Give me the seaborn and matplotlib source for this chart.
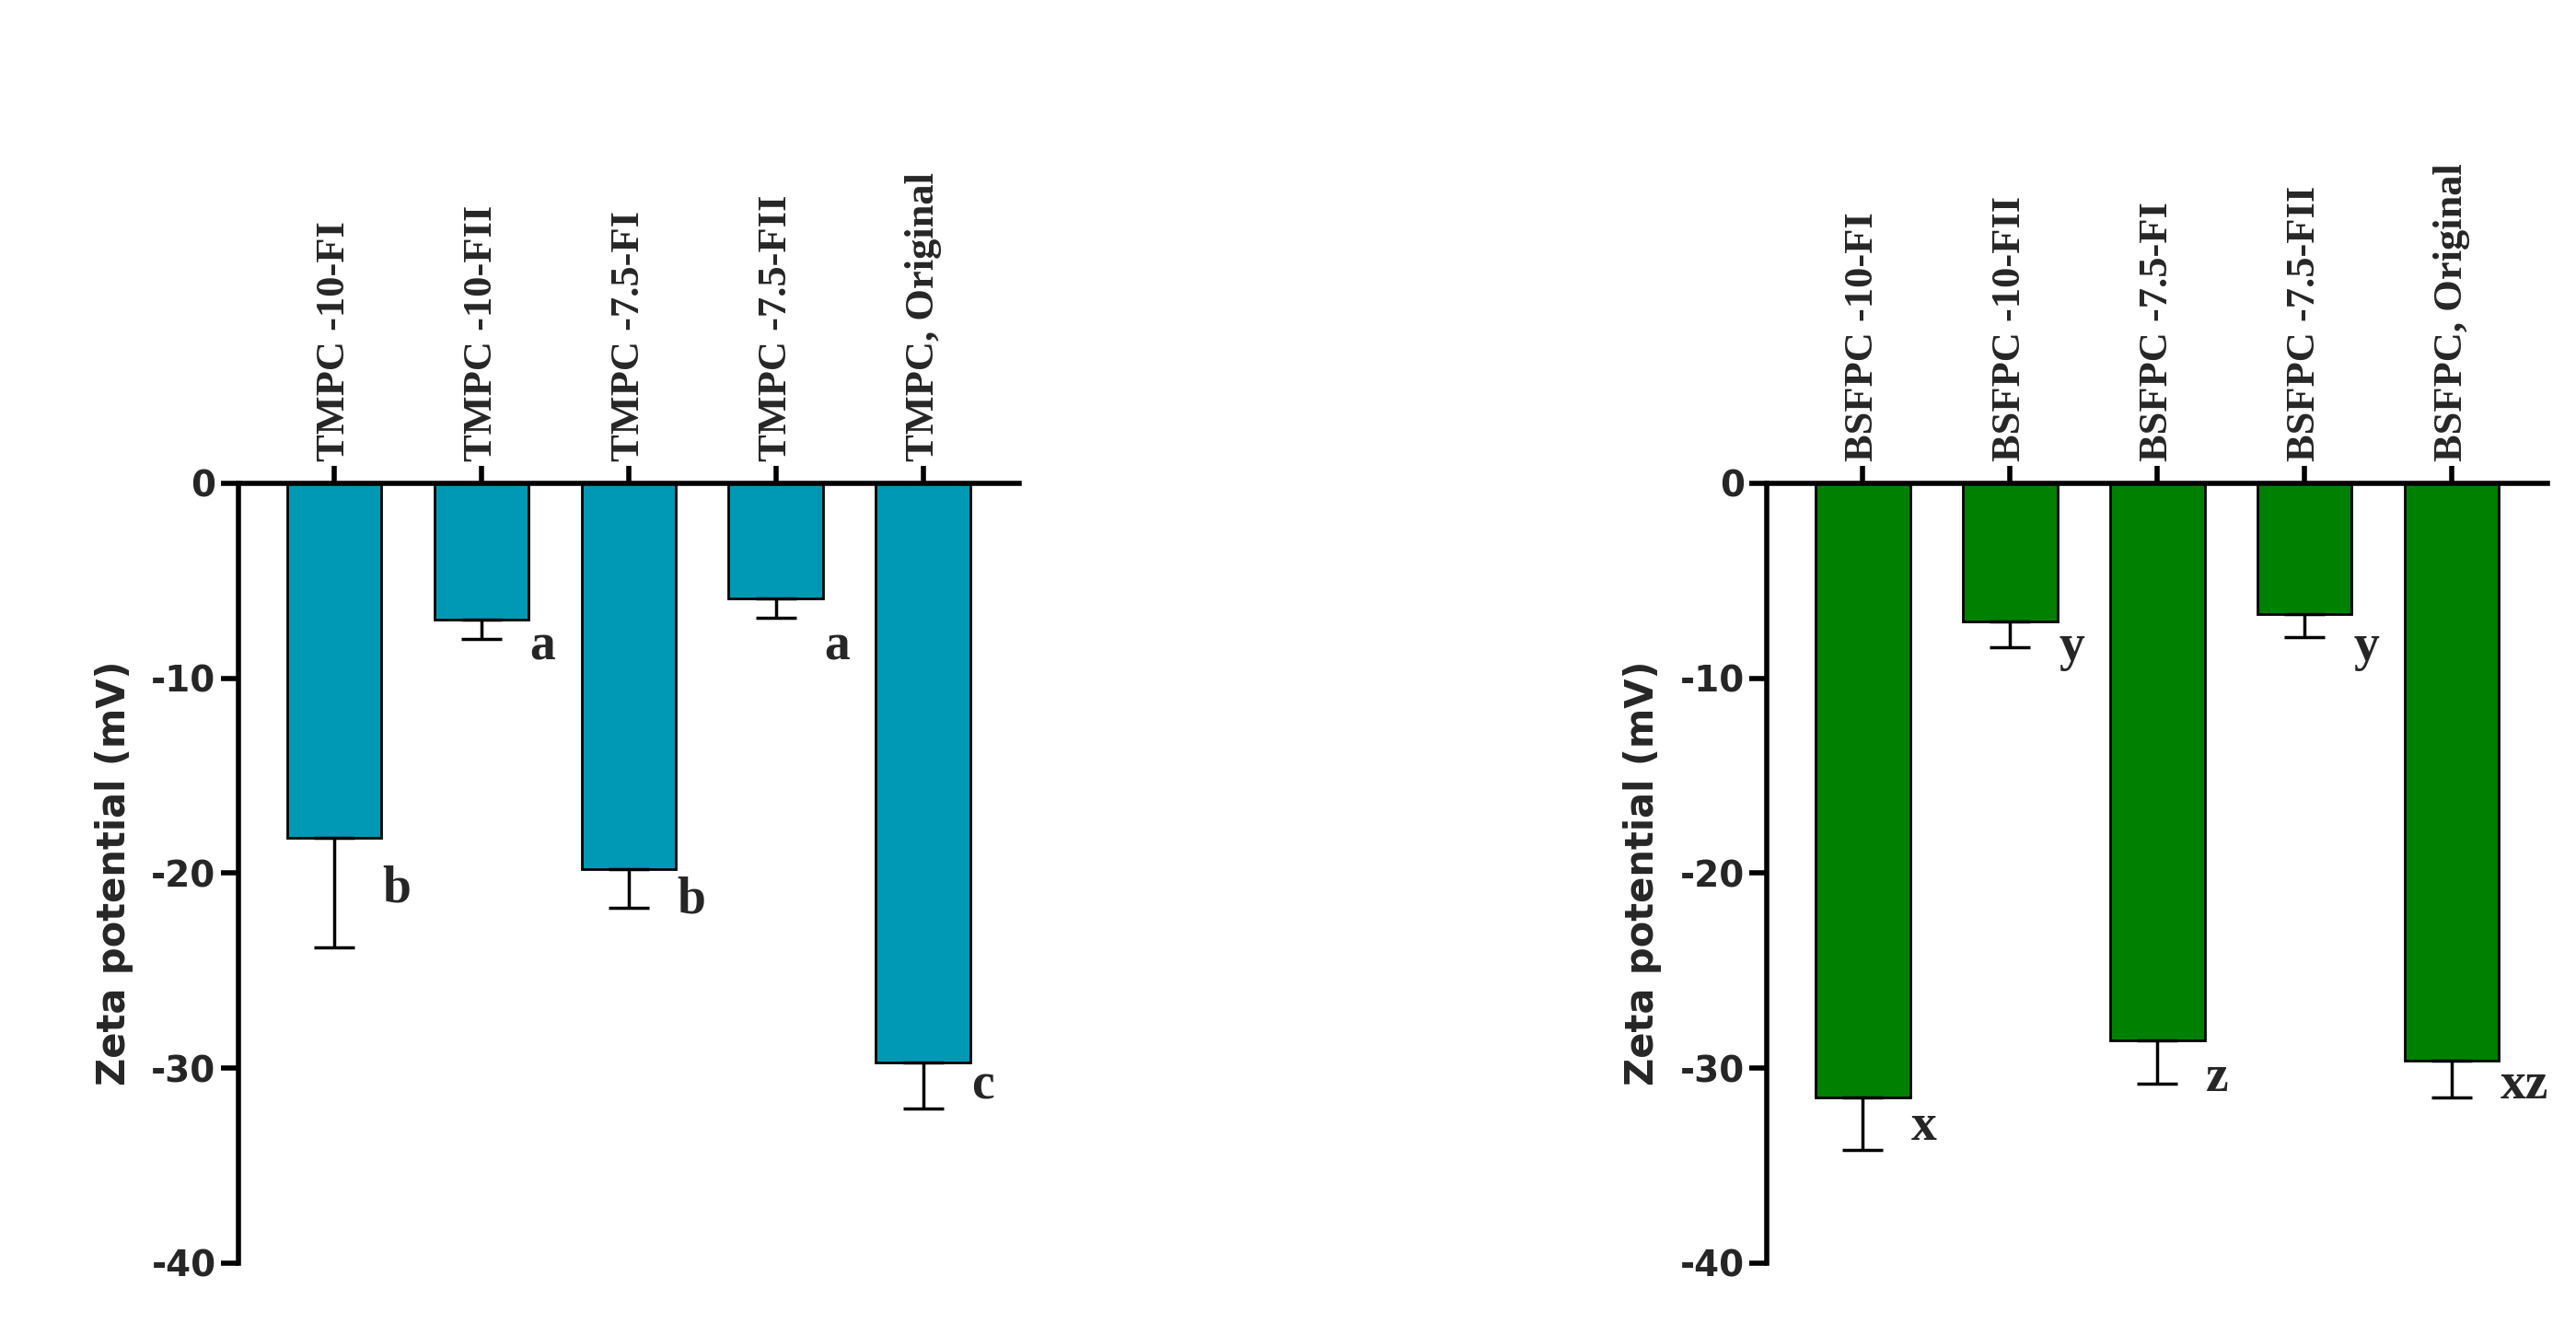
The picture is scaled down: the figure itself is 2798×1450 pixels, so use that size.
import matplotlib
matplotlib.use("Agg")
import matplotlib.pyplot as plt
import seaborn as sns
import pandas as pd
import numpy as np

sns.set_style("white")

left_cats = ["TMPC -10-FI", "TMPC -10-FII", "TMPC -7.5-FI", "TMPC -7.5-FII", "TMPC, Original"]
left_vals = [-18.2, -7.0, -19.8, -5.9, -29.7]
left_errs = [5.6, 1.0, 2.0, 1.0, 2.4]
left_letters = ["b", "a", "b", "a", "c"]
left_letter_y = [-20.8, -8.4, -21.4, -8.4, -30.9]

right_cats = ["BSFPC -10-FI", "BSFPC -10-FII", "BSFPC -7.5-FI", "BSFPC -7.5-FII", "BSFPC, Original"]
right_vals = [-31.5, -7.1, -28.6, -6.7, -29.6]
right_errs = [2.7, 1.3, 2.2, 1.2, 1.9]
right_letters = ["x", "y", "z", "y", "xz"]
right_letter_y = [-33.0, -8.4, -30.5, -8.4, -30.9]

yticks = [0, -10, -20, -30, -40]

fig = plt.figure(figsize=(27.98, 14.5), dpi=100)
axL = fig.add_axes([0.0925, 0.054, 0.303, 0.584])
axR = fig.add_axes([0.686, 0.054, 0.303, 0.584])

def draw(ax, cats, vals, errs, letters, ly, color):
    df = pd.DataFrame({"cat": cats, "val": vals})
    sns.barplot(data=df, x="cat", y="val", color=color, edgecolor="black",
                linewidth=2, width=0.64, ax=ax, saturation=1)
    x = np.arange(len(cats))
    ax.errorbar(x, vals, yerr=[errs, [0]*len(errs)], fmt="none", ecolor="black",
                elinewidth=2.5, capsize=16, capthick=2.5)
    for xi, l, yy in zip(x, letters, ly):
        ax.text(xi + 0.33, yy, l, fontsize=40, fontweight="bold",
                family="Liberation Serif", va="center", ha="left")
    ax.set_ylim(-40, 0)
    ax.set_xlim(-0.65, 4.65)
    ax.set_yticks(yticks)
    ax.set_yticklabels([str(t) for t in yticks], fontsize=28, fontweight="bold")
    ax.xaxis.tick_top()
    ax.set_xticks(x)
    ax.set_xticklabels(cats, rotation=90, fontsize=32, fontweight="bold",
                       family="Liberation Serif")
    ax.set_xlabel("")
    ax.set_ylabel("Zeta potential (mV)", fontsize=30, fontweight="bold", labelpad=14)
    for s in ["right", "bottom"]:
        ax.spines[s].set_visible(False)
    for s in ["left", "top"]:
        ax.spines[s].set_linewidth(4)
        ax.spines[s].set_color("black")
    ax.spines["left"].set_bounds(-40, 0)
    ax.tick_params(axis="both", width=4, length=14, direction="out", color="black",
                   left=True, top=True, bottom=False)
    ax.grid(False)

draw(axL, left_cats, left_vals, left_errs, left_letters, left_letter_y, "#0099B5")
draw(axR, right_cats, right_vals, right_errs, right_letters, right_letter_y, "#008000")

fig.savefig("out.png", dpi=100)
